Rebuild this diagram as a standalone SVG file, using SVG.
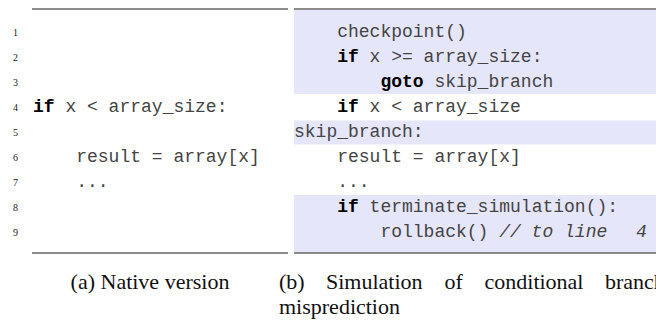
<svg xmlns="http://www.w3.org/2000/svg" width="656" height="322" viewBox="0 0 656 322">
<style>
.rule{stroke:#666;stroke-width:1.3;fill:none}
.hl{fill:#e6e6fa}
.code{font-family:"Liberation Mono","Courier New",monospace;font-size:18px;fill:#444;white-space:pre}
.kw{font-weight:bold;fill:#000}
.cm{font-style:italic}
.ln{font-family:"Liberation Serif","Times New Roman",serif;font-size:10px;fill:#222;text-anchor:end}
.cap{font-family:"Liberation Serif","Times New Roman",serif;font-size:22px;fill:#111}
</style>
<rect width="656" height="322" fill="#fff"/>
<g id="panel-a">
  <line class="rule" x1="32" y1="9" x2="288" y2="9"/>
  <line class="rule" x1="32" y1="253" x2="288" y2="253"/>
  <g id="line-numbers">
    <text class="ln" x="18" y="36">1</text>
    <text class="ln" x="18" y="61">2</text>
    <text class="ln" x="18" y="86">3</text>
    <text class="ln" x="18" y="111">4</text>
    <text class="ln" x="18" y="136">5</text>
    <text class="ln" x="18" y="161">6</text>
    <text class="ln" x="18" y="186">7</text>
    <text class="ln" x="18" y="211">8</text>
    <text class="ln" x="18" y="236">9</text>
  </g>
  <text class="code" x="33" y="112"><tspan class="kw">if</tspan> x &lt; array_size:</text>
  <text class="code" x="76.2" y="162">result = array[x]</text>
  <text class="code" x="76.2" y="187">...</text>
  <text class="cap" x="150" y="289" text-anchor="middle">(a) Native version</text>
</g>
<g id="panel-b">
  <rect class="hl" x="294" y="10" width="362" height="84"/>
  <rect class="hl" x="294" y="120.5" width="362" height="24"/>
  <rect class="hl" x="294" y="195" width="362" height="57.5"/>
  <line class="rule" x1="294" y1="9" x2="656" y2="9"/>
  <line class="rule" x1="294" y1="253" x2="656" y2="253"/>
  <text class="code" x="337.2" y="37">checkpoint()</text>
  <text class="code" x="337.2" y="62"><tspan class="kw">if</tspan> x &gt;= array_size:</text>
  <text class="code" x="380.4" y="87"><tspan class="kw">goto</tspan> skip_branch</text>
  <text class="code" x="337.2" y="112"><tspan class="kw">if</tspan> x &lt; array_size</text>
  <text class="code" x="294" y="137">skip_branch:</text>
  <text class="code" x="337.2" y="162">result = array[x]</text>
  <text class="code" x="337.2" y="187">...</text>
  <text class="code" x="337.2" y="212"><tspan class="kw">if</tspan> terminate_simulation():</text>
  <text class="code" x="380.4" y="237">rollback() <tspan class="cm">// to line</tspan><tspan class="cm" x="636">4</tspan></text>
  <text class="cap" y="289"><tspan x="279">(b)</tspan><tspan x="326">Simulation</tspan><tspan x="444.5">of</tspan><tspan x="484.5">conditional</tspan><tspan x="605">branch</tspan></text>
  <text class="cap" x="279" y="314">misprediction</text>
</g>
</svg>
